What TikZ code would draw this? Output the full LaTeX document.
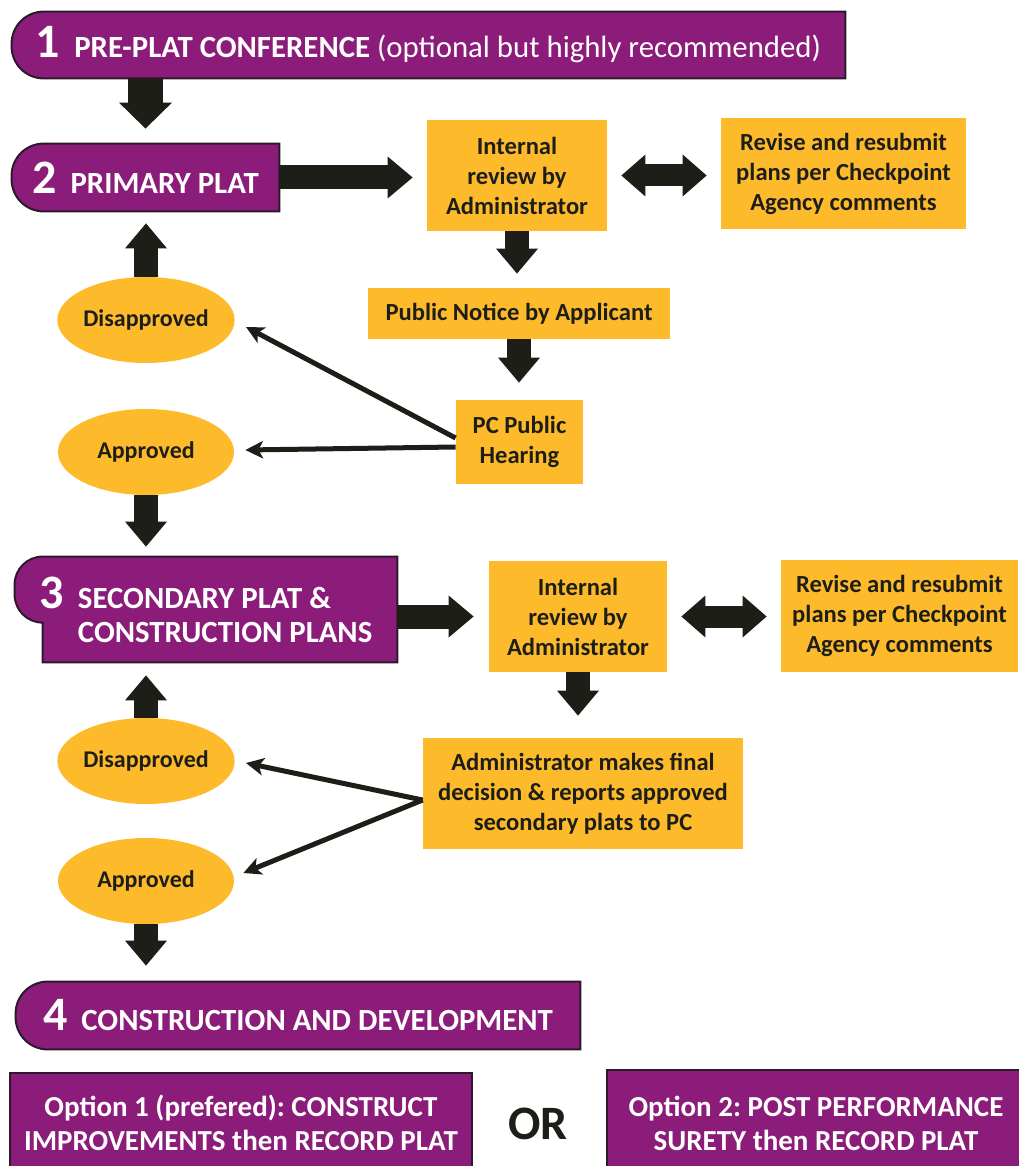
\documentclass[tikz,border=0pt]{standalone}
\usepackage{fontspec}
\setmainfont{Carlito}
\usetikzlibrary{arrows.meta,backgrounds,shapes.geometric}
\frenchspacing

\definecolor{plum}{RGB}{140,28,122}
\definecolor{plumedge}{RGB}{45,25,45}
\definecolor{amber}{RGB}{253,187,44}
\definecolor{ink}{RGB}{30,30,24}

\newcommand{\stagenum}[1]{{\fontsize{24}{24}\selectfont #1}\hspace{7pt}}

\tikzset{
  stage/.style={rectangle, inner sep=0pt, text=white, font=\bfseries\fontsize{15.4}{17}\selectfont},
  stagefill/.style={fill=plum, draw=plumedge, line width=1pt},
  option/.style={rectangle, fill=plum, draw=plumedge, line width=1pt, inner sep=0pt, align=center, text=white, font=\bfseries\fontsize{14.5}{17}\selectfont},
  stepbox/.style={rectangle, fill=amber, inner sep=0pt, align=center, text=ink, font=\bfseries\fontsize{12.3}{15}\selectfont},
  verdict/.style={ellipse, fill=amber, inner sep=0pt, minimum width=88pt, minimum height=43pt, text=ink, font=\bfseries\fontsize{12}{14}\selectfont},
  toparrow/.style={draw=ink, line width=17.5pt, -{Triangle[width=26.5pt,length=13pt,line width=0pt]}},
  blockarrow/.style={draw=ink, line width=12pt, -{Triangle[width=21pt,length=12.5pt,line width=0pt]}},
  twowayarrow/.style={draw=ink, line width=11pt, {Triangle[width=21pt,length=12pt,line width=0pt]}-{Triangle[width=21pt,length=12pt,line width=0pt]}},
  thinarrow/.style={draw=ink, line width=2.5pt, -{Stealth[length=9pt,width=9pt,inset=2.5pt,line width=0pt]}}
}

\begin{document}
\begin{tikzpicture}[x=0.5pt,y=-0.5pt]
\useasboundingbox (0,0) rectangle (1018,1166);

% stages
\node[stage, minimum width=416.5pt, minimum height=33pt] (s1) at (428.5,45) {\stagenum{1}PRE-PLAT CONFERENCE {\mdseries (optional but highly recommended)}};
\node[stage, minimum width=133.5pt, minimum height=33.5pt] (s2) at (145.5,177.5) {\stagenum{2}PRIMARY PLAT};
\node[stage, align=left, minimum width=191pt, minimum height=52.5pt] (s3) at (206,609.5) {\stagenum{3}SECONDARY PLAT \&\\\hphantom{\stagenum{3}}CONSTRUCTION PLANS};
\node[stage, minimum width=282pt, minimum height=33.5pt] (s4) at (298,1015.5) {\stagenum{4}CONSTRUCTION AND DEVELOPMENT};

% primary plat steps
\node[stepbox, minimum width=90pt, minimum height=55.5pt] (r1) at (517,175.5) {Internal\\review by\\Administrator};
\node[stepbox, minimum width=122.5pt, minimum height=55.5pt] (v1) at (843.5,173.5) {Revise and resubmit\\plans per Checkpoint\\Agency comments};
\node[stepbox, minimum width=151pt, minimum height=25.5pt] (n1) at (519,313.5) {Public Notice by Applicant};
\node[stepbox, minimum width=63.5pt, minimum height=42pt] (h1) at (519.5,442) {PC Public\\Hearing};
\node[verdict] (d1) at (146,320) {Disapproved};
\node[verdict] (p1) at (146,452) {Approved};

% secondary plat steps
\node[stepbox, minimum width=89pt, minimum height=55.5pt] (r2) at (578,616.5) {Internal\\review by\\Administrator};
\node[stepbox, minimum width=118.5pt, minimum height=56pt] (v2) at (899.5,616) {Revise and resubmit\\plans per Checkpoint\\Agency comments};
\node[stepbox, minimum width=160pt, minimum height=55.5pt] (a2) at (583,793.5) {Administrator makes final\\decision \& reports approved\\secondary plats to PC};
\node[verdict] (d2) at (146,761) {Disapproved};
\node[verdict] (p2) at (146,881) {Approved};

% options
\node[option, minimum width=231pt, minimum height=50pt] (o1) at (241,1123) {Option 1 (prefered): CONSTRUCT\\IMPROVEMENTS then RECORD PLAT};
\node[option, minimum width=209pt, minimum height=53pt] (o2) at (816,1123) {Option 2: POST PERFORMANCE\\SURETY then RECORD PLAT};
\node[text=ink, font=\bfseries\fontsize{24}{24}\selectfont] (or) at (538,1124) {OR};

\begin{scope}[on background layer]
\fill[white] (0,0) rectangle (1018,1166);
\draw[stagefill] (s1.north east) -- ([xshift=16pt]s1.north west) arc[start angle=90,end angle=180,radius=16pt] -- ([yshift=16pt]s1.south west) arc[start angle=180,end angle=270,radius=16pt] -- (s1.south east) -- cycle;
\draw[stagefill] (s2.north east) -- ([xshift=16pt]s2.north west) arc[start angle=90,end angle=180,radius=16pt] -- ([yshift=16pt]s2.south west) arc[start angle=180,end angle=270,radius=16pt] -- (s2.south east) -- cycle;
\draw[stagefill] (s3.north east) -- ([xshift=14pt]s3.north west) arc[start angle=90,end angle=180,radius=14pt] -- ([yshift=-19pt]s3.north west) arc[start angle=180,end angle=270,radius=14pt] -- ([xshift=14pt]s3.south west) -- (s3.south east) -- cycle;
\draw[stagefill] (s4.north east) -- ([xshift=16pt]s4.north west) arc[start angle=90,end angle=180,radius=16pt] -- ([yshift=16pt]s4.south west) arc[start angle=180,end angle=270,radius=16pt] -- (s4.south east) -- cycle;
\end{scope}

% connectors
\draw[toparrow, shorten >=7.5pt] (s2.north |- s1.south) -- (s2.north);
\draw[blockarrow, shorten >=7pt] (s2.east) -- (s2.east -| r1.west);
\draw[twowayarrow, shorten <=7pt, shorten >=7pt] (r1.east) -- (r1.east -| v1.west);
\draw[blockarrow, shorten >=7pt] (r1.south) -- (r1.south |- n1.north);
\draw[blockarrow, shorten >=8.5pt] (n1.south) -- (n1.south |- h1.north);
\draw[thinarrow] ([yshift=2pt]h1.west) -- ([xshift=5.5pt,yshift=-3.5pt]d1.east);
\draw[thinarrow] ([yshift=-2.5pt]h1.west) -- ([xshift=5.5pt,yshift=1pt]p1.east);
\draw[blockarrow, shorten >=6pt] (d1.north) -- (d1.north |- s2.south);
\draw[blockarrow, shorten >=5pt] (p1.south) -- (p1.south |- s3.north);

\draw[blockarrow, shorten >=7.5pt] (s3.east |- r2.west) -- (r2.west);
\draw[twowayarrow, shorten <=7pt, shorten >=7pt] (r2.east) -- (r2.east -| v2.west);
\draw[blockarrow, shorten >=11pt] (r2.south) -- (r2.south |- a2.north);
\draw[thinarrow] ([yshift=-3.25pt]a2.west) -- ([xshift=5.5pt,yshift=-1pt]d2.east);
\draw[thinarrow] ([yshift=-3.25pt]a2.west) -- ([xshift=4.5pt,yshift=4pt]p2.east);
\draw[blockarrow, shorten >=6.5pt] (d2.north) -- (d2.north |- s3.south);
\draw[blockarrow, shorten >=8pt] (p2.south) -- (p2.south |- s4.north);
\end{tikzpicture}
\end{document}
